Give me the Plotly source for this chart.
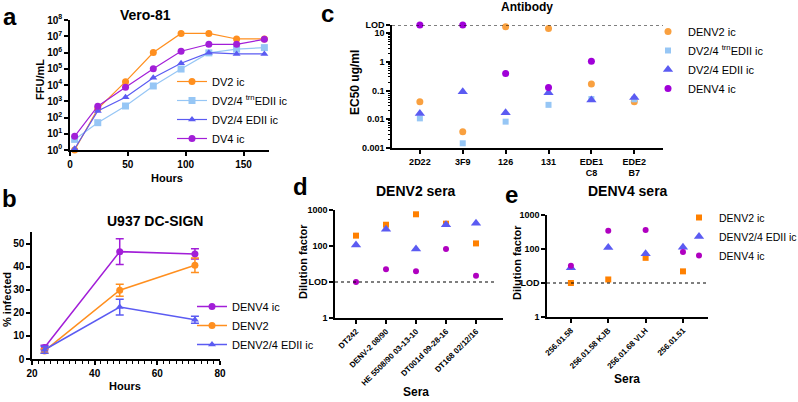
import plotly.graph_objects as go
import numpy as np

W, H = 798, 402
FONT = "Liberation Sans, Arial, sans-serif"

# ---------------- data ----------------
hours_a = [4, 24, 48, 72, 96, 120, 144, 168]
a_dv2 = [1, 340, 16000, 1.0e6, 1.5e7, 1.5e7, 6.8e6, 6.8e6]
a_trn = [4.5, 48, 510, 8700, 9.6e4, 9.5e5, 1.6e6, 2.0e6]
a_edii = [1.2, 250, 1750, 2.8e4, 2.2e5, 9.7e5, 8.2e5, 8.2e5]
a_dv4 = [7, 500, 7200, 1.0e5, 1.2e6, 3.2e6, 3.2e6, 6.5e6]
a_tickvals = [10 ** k for k in range(9)]
a_ticktext = ["10<sup>%d</sup>" % k for k in range(9)]

hours_b = [24, 48, 72]
b_dv4 = [5, 46.5, 45.5]
b_dv4_err = [1, 5.6, 2.2]
b_dv2 = [3.5, 29.8, 40.6]
b_dv2_err = [1, 2.6, 3.1]
b_edii = [4, 22.5, 17]
b_edii_err = [1.5, 3.4, 1.5]

c_lod = 19.5
c_antibodies = ["2D22", "3F9", "126", "131", "EDE1<br>C8", "EDE2<br>B7"]
c_dv2 = [0.041, 0.0037, 17, 14.8, 0.17, 0.041]
c_trn = [0.0108, 0.00146, 0.0083, 0.032, 0.051, 0.05]
c_edii = [0.016, 0.092, 0.017, 0.085, 0.047, 0.058]
c_dv4 = [19.5, 19.5, 0.40, 0.13, 1.07, None]
c_tickvals = [0.001, 0.01, 0.1, 1, 10, c_lod]
c_ticktext = ["0.001", "0.01", "0.1", "1", "10", "LOD"]

d_lod = 10
d_sera = ["DT242", "DENV-2 08/90", "HE 5508/90 03-13-10", "DT001d 09-28-16", "DT168 02/12/16"]
d_dv2 = [194, 390, 760, 417, 118]
d_edii = [107, 290, 83, 390, 430]
d_dv4 = [10, 22.6, 20, 83, 15]

e_lod = 10
e_sera = ["256.01.58", "256.01.58 KJB", "256.01.68 VLH", "256.01.51"]
e_dv2 = [10, 12.7, 55, 22]
e_edii = [28, 111, 73, 113]
e_dv4 = [32, 345, 365, 81]

de_tickvals = [1, 10, 100, 1000]
de_ticktext = ["1", "LOD", "100", "1000"]

# ---------------- colours ----------------
OR_A = "#FF8F1F"
LB_A = "#96C6F5"
BL_A = "#5B5BF2"
PU_A = "#A21ED8"
OR_C = "#F9A03F"
PU_C = "#A000D8"
OR_D = "#FF8000"
PU_D = "#B000C0"


def px_x(x):
    return x / W


def px_y(y):
    return 1 - y / H


fig = go.Figure()

# ---------------- panel a ----------------
for name, vals, col, sym in [
    ("DV2 ic", a_dv2, OR_A, "circle"),
    ("DV2/4 <sup>trn</sup>EDII ic", a_trn, LB_A, "square"),
    ("DV2/4 EDII ic", a_edii, BL_A, "triangle-up"),
    ("DV4 ic", a_dv4, PU_A, "circle"),
]:
    fig.add_trace(go.Scatter(x=hours_a, y=vals, name=name, mode="lines+markers",
                             line=dict(color=col, width=1.2),
                             marker=dict(color=col, symbol=sym, size=7),
                             cliponaxis=False, xaxis="x", yaxis="y", legend="legend"))

# ---------------- panel b ----------------
for name, vals, err, col, sym in [
    ("DENV4 ic", b_dv4, b_dv4_err, PU_A, "circle"),
    ("DENV2", b_dv2, b_dv2_err, OR_A, "circle"),
    ("DENV2/4 EDII ic", b_edii, b_edii_err, BL_A, "triangle-up"),
]:
    fig.add_trace(go.Scatter(x=hours_b, y=vals, name=name, mode="lines+markers",
                             error_y=dict(type="data", array=err, color=col, thickness=1.5, width=4),
                             line=dict(color=col, width=1.5),
                             marker=dict(color=col, symbol=sym, size=7),
                             cliponaxis=False, xaxis="x2", yaxis="y2", legend="legend2"))

# ---------------- panel c ----------------
for name, vals, col, sym, sz in [
    ("DENV2 ic", c_dv2, OR_C, "circle", 7),
    ("DV2/4 <sup>trn</sup>EDII ic", c_trn, LB_A, "square", 6),
    ("DV2/4 EDII ic", c_edii, BL_A, "triangle-up", 9),
    ("DENV4 ic", c_dv4, PU_C, "circle", 7),
]:
    fig.add_trace(go.Scatter(x=c_antibodies, y=vals, name=name, mode="markers",
                             marker=dict(color=col, symbol=sym, size=sz),
                             cliponaxis=False, xaxis="x3", yaxis="y3", legend="legend3"))

# ---------------- panel d ----------------
for name, vals, col, sym, sz in [
    ("DENV2 ic", d_dv2, OR_D, "square", 6),
    ("DENV2/4 EDII ic", d_edii, BL_A, "triangle-up", 9),
    ("DENV4 ic", d_dv4, PU_D, "circle", 6),
]:
    fig.add_trace(go.Scatter(x=d_sera, y=vals, name=name, mode="markers",
                             marker=dict(color=col, symbol=sym, size=sz), showlegend=False,
                             cliponaxis=False, xaxis="x4", yaxis="y4"))

# ---------------- panel e ----------------
for name, vals, col, sym, sz in [
    ("DENV2 ic", e_dv2, OR_D, "square", 6),
    ("DENV2/4 EDII ic", e_edii, BL_A, "triangle-up", 9),
    ("DENV4 ic", e_dv4, PU_D, "circle", 6),
]:
    fig.add_trace(go.Scatter(x=e_sera, y=vals, name=name, mode="markers",
                             marker=dict(color=col, symbol=sym, size=sz),
                             cliponaxis=False, xaxis="x5", yaxis="y5", legend="legend4"))

AX = dict(showline=True, linecolor="black", linewidth=1.5, ticks="outside", ticklen=4,
          tickwidth=1.5, tickcolor="black", showgrid=False, zeroline=False, automargin=False,
          tickfont=dict(family=FONT, size=9, color="black", weight="bold"))


def ax(**kw):
    d = dict(AX)
    d.update(kw)
    return d


c_minor = [m * 10 ** k for k in range(-3, 2) for m in range(2, 10) if m * 10 ** k < c_lod]

fig.update_layout(
    width=W, height=H, margin=dict(l=0, r=0, t=0, b=0, autoexpand=False),
    paper_bgcolor="white", plot_bgcolor="white",
    font=dict(family=FONT, color="black"),
    # a
    xaxis=ax(domain=[px_x(70), px_x(269)], range=[0, 172], tickvals=[0, 50, 100, 150],
             anchor="y", tickfont=dict(family=FONT, size=10, color="black", weight="bold")),
    yaxis=ax(domain=[px_y(150), px_y(20)], type="log", range=[0, 8], tickvals=a_tickvals,
             ticktext=a_ticktext, anchor="x",
             tickfont=dict(family=FONT, size=10, color="black", weight="bold")),
    # b
    xaxis2=ax(domain=[px_x(32), px_x(220)], range=[20, 80], tickvals=[20, 40, 60, 80], anchor="y2",
              minor=dict(ticks="outside", ticklen=3, dtick=2, tickcolor="black", tickwidth=1),
              tickfont=dict(family=FONT, size=10, color="black", weight="bold")),
    yaxis2=ax(domain=[px_y(359), px_y(232)], range=[0, 55], tickvals=[0, 10, 20, 30, 40, 50],
              anchor="x2", tickfont=dict(family=FONT, size=10, color="black", weight="bold")),
    # c
    xaxis3=ax(domain=[px_x(392), px_x(663)], type="category", range=[-0.65, 5.67], anchor="y3"),
    yaxis3=ax(domain=[px_y(148), px_y(25)], type="log", range=[-3, np.log10(c_lod)],
              tickvals=c_tickvals, ticktext=c_ticktext, anchor="x3",
              minor=dict(ticks="outside", ticklen=2.5, tickvals=c_minor, tickcolor="black", tickwidth=1)),
    # d
    xaxis4=ax(domain=[px_x(335), px_x(503)], type="category", range=[-0.7, 4.9], anchor="y4",
              tickangle=-45, tickfont=dict(family=FONT, size=8, color="black", weight="bold")),
    yaxis4=ax(domain=[px_y(318), px_y(210)], type="log", range=[0, 3], tickvals=de_tickvals,
              ticktext=de_ticktext, anchor="x4"),
    # e
    xaxis5=ax(domain=[px_x(547), px_x(708)], type="category", range=[-0.64, 3.67], anchor="y5",
              tickangle=-45, tickfont=dict(family=FONT, size=8, color="black", weight="bold")),
    yaxis5=ax(domain=[px_y(317), px_y(215)], type="log", range=[0, 3], tickvals=de_tickvals,
              ticktext=de_ticktext, anchor="x5"),
    legend=dict(x=px_x(172), y=px_y(67), xanchor="left", yanchor="top", bgcolor="rgba(0,0,0,0)",
                font=dict(family=FONT, size=11, color="black"), tracegroupgap=0, itemwidth=30),
    legend2=dict(x=px_x(192), y=px_y(292), xanchor="left", yanchor="top", bgcolor="rgba(0,0,0,0)",
                 font=dict(family=FONT, size=11, color="black"), itemwidth=30),
    legend3=dict(x=px_x(648), y=px_y(17), xanchor="left", yanchor="top", bgcolor="rgba(0,0,0,0)",
                 font=dict(family=FONT, size=11, color="black"), itemwidth=30),
    legend4=dict(x=px_x(679), y=px_y(203), xanchor="left", yanchor="top", bgcolor="rgba(0,0,0,0)",
                 font=dict(family=FONT, size=10.5, color="black"), itemwidth=30),
)

# LOD dotted lines
for xr, yr, lod, x1 in [("x3 domain", "y3", c_lod, 1.0), ("x4 domain", "y4", d_lod, 0.96),
                        ("x5 domain", "y5", e_lod, 1.0)]:
    fig.add_shape(type="line", xref=xr, yref=yr, x0=0, x1=x1, y0=lod, y1=lod,
                  line=dict(color="black", width=1.2, dash="dot"))


def ann(text, x, y, size, angle=0, bold=True):
    fig.add_annotation(text=text, x=px_x(x), y=px_y(y), xref="paper", yref="paper",
                       showarrow=False, textangle=angle, xanchor="center", yanchor="middle",
                       font=dict(family=FONT, size=size, color="black",
                                 weight="bold" if bold else "normal"))


# panel letters
ann("a", 10, 17, 24)
ann("b", 9, 198, 24)
ann("c", 327, 13, 24)
ann("d", 300, 186, 24)
ann("e", 511, 195, 24)
# titles
ann("Vero-81", 145, 15, 14)
ann("U937 DC-SIGN", 155, 221, 14)
ann("Antibody", 527, 7, 12)
ann("DENV2 sera", 416, 191, 14)
ann("DENV4 sera", 628, 191, 14)
# axis titles
ann("FFU/mL", 40, 80, 11, -90)
ann("Hours", 167, 178, 11)
ann("% infected", 7, 300, 11, -90)
ann("Hours", 125, 386, 11)
ann("EC50 ug/ml", 355, 83, 12, -90)
ann("Dilution factor", 303, 262, 11, -90)
ann("Sera", 416, 392, 12)
ann("Dilution factor", 517, 263, 11, -90)
ann("Sera", 627, 379, 12)

fig.write_html("out.html", config={"displayModeBar": False},
               post_script="document.body.style.margin='0';document.body.style.padding='0';"
                           "document.documentElement.style.overflow='hidden';")
